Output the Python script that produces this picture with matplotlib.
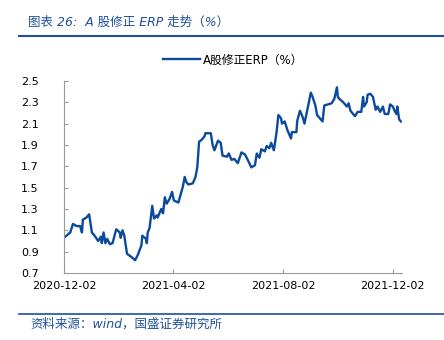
#!/usr/bin/env python3

import matplotlib
matplotlib.use("Agg")
import matplotlib.pyplot as plt
import matplotlib.dates as mdates
import numpy as np

#################################################
### Data
#################################################

dates = [
    "2020-12-02", "2020-12-09", "2020-12-12", "2020-12-16", "2020-12-20", "2020-12-22",
    "2020-12-23", "2020-12-27", "2020-12-30", "2021-01-02", "2021-01-05", "2021-01-09",
    "2021-01-12", "2021-01-13", "2021-01-15", "2021-01-17", "2021-01-19", "2021-01-22",
    "2021-01-25", "2021-01-29", "2021-02-02", "2021-02-03", "2021-02-05", "2021-02-07",
    "2021-02-10", "2021-02-15", "2021-02-19", "2021-02-22", "2021-02-26", "2021-02-27",
    "2021-03-03", "2021-03-04", "2021-03-05", "2021-03-07", "2021-03-10", "2021-03-12",
    "2021-03-15", "2021-03-16", "2021-03-20", "2021-03-22", "2021-03-24", "2021-03-26",
    "2021-03-29", "2021-04-01", "2021-04-03", "2021-04-08", "2021-04-13", "2021-04-15",
    "2021-04-17", "2021-04-19", "2021-04-24", "2021-04-27", "2021-04-29", "2021-05-01",
    "2021-05-04", "2021-05-07", "2021-05-08", "2021-05-14", "2021-05-16", "2021-05-18",
    "2021-05-22", "2021-05-25", "2021-05-27", "2021-06-01", "2021-06-03", "2021-06-06",
    "2021-06-09", "2021-06-13", "2021-06-17", "2021-06-21", "2021-06-24", "2021-06-28",
    "2021-07-02", "2021-07-04", "2021-07-07", "2021-07-09", "2021-07-13", "2021-07-15",
    "2021-07-18", "2021-07-20", "2021-07-23", "2021-07-26", "2021-07-28", "2021-07-31",
    "2021-08-01", "2021-08-04", "2021-08-07", "2021-08-11", "2021-08-12", "2021-08-17",
    "2021-08-18", "2021-08-21", "2021-08-24", "2021-08-26", "2021-09-02", "2021-09-04",
    "2021-09-07", "2021-09-09", "2021-09-15", "2021-09-17", "2021-09-21", "2021-09-25",
    "2021-09-28", "2021-10-01", "2021-10-02", "2021-10-04", "2021-10-08", "2021-10-12",
    "2021-10-14", "2021-10-16", "2021-10-21", "2021-10-24", "2021-10-28", "2021-10-30",
    "2021-10-31", "2021-11-03", "2021-11-04", "2021-11-07", "2021-11-10", "2021-11-13",
    "2021-11-15", "2021-11-18", "2021-11-21", "2021-11-23", "2021-11-27", "2021-11-29",
    "2021-12-02", "2021-12-04", "2021-12-06", "2021-12-07", "2021-12-09", "2021-12-11",
]

erp = [
    1.03, 1.08, 1.16, 1.14, 1.14, 1.08,
    1.20, 1.22, 1.25, 1.08, 1.05, 1.00,
    1.04, 0.98, 1.08, 0.98, 1.02, 0.97,
    0.98, 1.11, 1.08, 1.03, 1.10, 1.05,
    0.88, 0.85, 0.82, 0.87, 0.96, 1.05,
    1.02, 0.98, 1.08, 1.12, 1.33, 1.21,
    1.24, 1.22, 1.30, 1.26, 1.41, 1.35,
    1.39, 1.46, 1.38, 1.36, 1.51, 1.60,
    1.55, 1.53, 1.54, 1.60, 1.69, 1.93,
    1.95, 1.98, 2.01, 2.01, 1.90, 1.85,
    1.94, 1.92, 1.80, 1.79, 1.82, 1.76,
    1.77, 1.73, 1.83, 1.81, 1.76, 1.69,
    1.71, 1.82, 1.78, 1.86, 1.84, 1.89,
    1.87, 1.92, 1.85, 2.02, 2.18, 2.15,
    2.10, 2.12, 2.04, 1.96, 2.02, 2.02,
    2.13, 2.22, 2.16, 2.10, 2.39, 2.35,
    2.27, 2.18, 2.12, 2.27, 2.28, 2.29,
    2.33, 2.44, 2.35, 2.33, 2.30, 2.26,
    2.29, 2.22, 2.17, 2.21, 2.21, 2.35,
    2.26, 2.30, 2.37, 2.38, 2.35, 2.23,
    2.26, 2.21, 2.26, 2.19, 2.19, 2.28,
    2.26, 2.22, 2.19, 2.26, 2.14, 2.12,
]

y_ticks = [0.7, 0.9, 1.1, 1.3, 1.5, 1.7, 1.9, 2.1, 2.3, 2.5]
x_ticks = ["2020-12-02", "2021-04-02", "2021-08-02", "2021-12-02"]

title_text = "图表 26:  A 股修正 ERP 走势（%）"
source_text = "资料来源：wind，国盛证券研究所"
series_name = "A股修正ERP（%）"

#################################################
### Plotting
#################################################

plt.rcParams['font.family'] = ['DejaVu Sans', 'Noto Sans CJK SC']

blue = "#0b4a9c"
title_blue = "#1f4f9e"

fig = plt.figure(figsize=(4.44, 3.4), dpi=100)
ax = fig.add_axes([0.144, 0.197, 0.761, 0.565])

x = np.array(dates, dtype="datetime64[D]")
ax.plot(x, erp, color=blue, linewidth=1.7, label=series_name)

ax.set_ylim(0.7, 2.5)
ax.set_yticks(y_ticks)
ax.set_yticklabels([f"{v:.1f}" for v in y_ticks])
ax.set_xlim(np.datetime64("2020-12-02"), np.datetime64("2021-12-12"))
ax.set_xticks(np.array(x_ticks, dtype="datetime64[D]"))
ax.xaxis.set_major_formatter(mdates.DateFormatter("%Y-%m-%d"))

for side in ["top", "right"]:
    ax.spines[side].set_visible(False)
for side in ["left", "bottom"]:
    ax.spines[side].set_color("#999999")
    ax.spines[side].set_linewidth(0.8)

ax.tick_params(axis="both", direction="in", length=3, color="#999999",
               labelsize=8, labelcolor="black")
ax.tick_params(axis="y", pad=18)
ax.tick_params(axis="x", pad=6)

leg = ax.legend(loc="lower center", bbox_to_anchor=(0.5, 1.02), frameon=False,
                handlelength=3.2, handletextpad=0.2,
                prop={'family': ['DejaVu Sans', 'Noto Sans CJK SC'], 'size': 8.5})

# Header and footer
fig.text(28 / 444, 1 - 22 / 340, title_text, color=title_blue, fontsize=9,
         style="italic", va="center", ha="left",
         family=['DejaVu Sans', 'Noto Sans CJK SC'])
fig.add_artist(plt.Line2D([19 / 444, 1.0], [1 - 36 / 340, 1 - 36 / 340],
                          color=title_blue, linewidth=1.5))
fig.add_artist(plt.Line2D([19 / 444, 1.0], [1 - 314 / 340, 1 - 314 / 340],
                          color=title_blue, linewidth=1.2))
fig.text(30 / 444, 1 - 324 / 340, source_text, color=title_blue, fontsize=9,
         style="italic", va="center", ha="left",
         family=['DejaVu Sans', 'Noto Sans CJK SC'])

fig.savefig("out.png", dpi=100)
